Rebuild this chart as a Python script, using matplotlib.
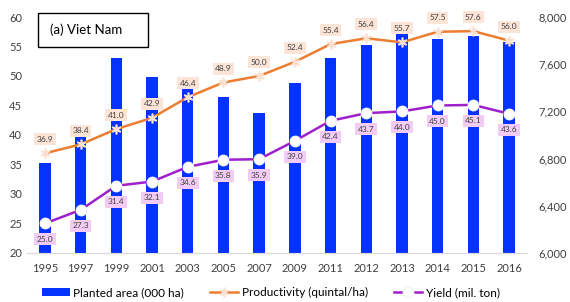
import matplotlib.pyplot as plt
from matplotlib.patches import Rectangle
import numpy as np

years = ['1995', '1997', '1999', '2001', '2003', '2005', '2007', '2009',
         '2011', '2012', '2013', '2014', '2015', '2016']
area = [6765, 6995, 7655, 7495, 7390, 7325, 7190, 7440,
        7655, 7765, 7860, 7815, 7835, 7790]
productivity = [36.9, 38.4, 41.0, 42.9, 46.4, 48.9, 50.0, 52.4,
                55.4, 56.4, 55.7, 57.5, 57.6, 56.0]
rice_yield = [25.0, 27.3, 31.4, 32.1, 34.6, 35.8, 35.9, 39.0,
              42.4, 43.7, 44.0, 45.0, 45.1, 43.6]

plt.rcParams['font.family'] = ['Lato', 'DejaVu Sans']

fig = plt.figure(figsize=(5.7, 3.02), dpi=100)
ax1 = fig.add_axes([0.0474, 0.1623, 0.877, 0.7814])
ax2 = ax1.twinx()
ax1.set_zorder(ax2.get_zorder() + 1)
ax1.patch.set_visible(False)

x = np.arange(len(years))
bars = ax2.bar(x, area, width=0.32, color='#0433FF', label='Planted area (000 ha)')
ax2.set_ylim(6000, 8000)
ax2.set_yticks([6000, 6400, 6800, 7200, 7600, 8000])
ax2.set_yticklabels(['6,000', '6,400', '6,800', '7,200', '7,600', '8,000'])

p_line, = ax1.plot(x, productivity, color='#ED7D31', lw=1.8, marker=(6, 2, 0),
                   ms=7, mec='#FBE0D0', mew=1.2, label='Productivity (quintal/ha)')
y_line, = ax1.plot(x, rice_yield, color='#A01FCC', lw=1.8, marker='o', ms=7.5,
                   mfc='white', mec='#F4F4F4', label='Yield (mil. ton)')
ax1.set_ylim(20, 60)
ax1.set_yticks(range(20, 61, 5))
ax1.set_xlim(-0.5, len(years) - 0.5)
ax1.set_xticks(x)
ax1.set_xticklabels(years)

for xi, v in zip(x, productivity):
    ax1.annotate(f'{v:.1f}', (xi, v), xytext=(0, 10), textcoords='offset points',
                 ha='center', va='center', fontsize=6, color='#404040',
                 bbox=dict(boxstyle='square,pad=0.3', fc='#FCE4D6', ec='none'))
for xi, v in zip(x, rice_yield):
    ax1.annotate(f'{v:.1f}', (xi, v), xytext=(0, -11.5), textcoords='offset points',
                 ha='center', va='center', fontsize=6, color='#404040',
                 bbox=dict(boxstyle='square,pad=0.3', fc='#F3CCF5', ec='none'))

for ax in (ax1, ax2):
    for s in ('top', 'left', 'right'):
        ax.spines[s].set_visible(False)
    ax.spines['bottom'].set_color('#D9D9D9')
    ax.tick_params(length=0, labelsize=8, colors='#404040')
ax1.tick_params(axis='x', pad=7)
ax2.tick_params(axis='y', pad=8)
ax2.spines['bottom'].set_visible(False)

fig.add_artist(Rectangle((0.0667, 0.844), 0.193, 0.1126, transform=fig.transFigure,
                         fc='white', ec='black', lw=1))
fig.text(0.088, 0.9, '(a) Viet Nam', fontsize=9.5, va='center', ha='left')

fig.legend(handles=[bars, p_line, y_line], loc='center', bbox_to_anchor=(0.475, 0.03),
           ncol=3, frameon=False, fontsize=8.5, handlelength=2.4, columnspacing=2.2,
           handletextpad=0.3)

fig.savefig('out.png', dpi=100)
